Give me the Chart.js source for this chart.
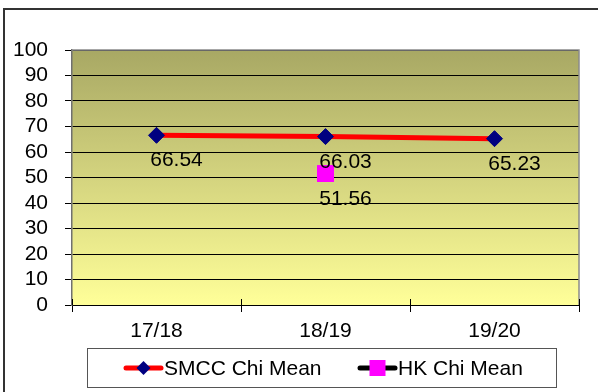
<!DOCTYPE html>
<html>
<head>
<meta charset="utf-8">
<script src="https://cdn.jsdelivr.net/npm/chart.js@4.4.1/dist/chart.umd.min.js"></script>
<style>
  html, body { margin: 0; padding: 0; background: #ffffff; }
  #wrap { width: 598px; height: 392px; position: relative; }
</style>
</head>
<body>
<div id="wrap"><canvas id="c" width="598" height="392"></canvas></div>
<script>
// Academic years on the category axis
const categories = ['17/18', '18/19', '19/20'];
// School mean and territory-wide mean for Chinese
const smccMean = [66.54, 66.03, 65.23];
const hkMean = [null, 51.56, null];
// Value axis range
const yMin = 0;
const yMax = 100;
const yStep = 10;

const FONT = '"Liberation Sans", Arial, sans-serif';
const FSIZE = 21;

// Outer frame, gradient plot fill and gray plot border
const framePlugin = {
  id: 'frame',
  beforeDraw(chart) {
    const ctx = chart.ctx;
    const a = chart.chartArea;
    ctx.save();
    ctx.fillStyle = '#ffffff';
    ctx.fillRect(0, 0, chart.width, chart.height);
    ctx.strokeStyle = '#333333';
    ctx.lineWidth = 2;
    ctx.strokeRect(4, 9, chart.width + 20, chart.height + 20);
    const g = ctx.createLinearGradient(0, a.top, 0, a.bottom);
    g.addColorStop(0, '#a8a864');
    g.addColorStop(1, '#ffff99');
    ctx.fillStyle = g;
    ctx.fillRect(a.left, a.top, a.right - a.left, a.bottom - a.top);
    ctx.restore();
  },
  beforeDatasetsDraw(chart) {
    const ctx = chart.ctx;
    const a = chart.chartArea;
    ctx.save();
    ctx.strokeStyle = '#8a8a8a';
    ctx.lineWidth = 1.5;
    ctx.beginPath();
    ctx.moveTo(a.left, a.top);
    ctx.lineTo(a.right, a.top);
    ctx.lineTo(a.right, a.bottom);
    ctx.stroke();
    // category separator ticks crossing the value-zero line
    const n = chart.data.labels.length;
    ctx.strokeStyle = '#000000';
    ctx.lineWidth = 1;
    for (let i = 0; i <= n; i++) {
      const x = Math.round(a.left + i * (a.right - a.left) / n) + 0.5;
      ctx.beginPath();
      ctx.moveTo(x, a.bottom - 6);
      ctx.lineTo(x, a.bottom);
      ctx.stroke();
    }
    ctx.restore();
  }
};

// Value labels below each marker
const valueLabels = {
  id: 'valueLabels',
  afterDatasetsDraw(chart) {
    const ctx = chart.ctx;
    ctx.save();
    ctx.font = FSIZE + 'px ' + FONT;
    ctx.fillStyle = '#000000';
    ctx.textAlign = 'center';
    ctx.textBaseline = 'alphabetic';
    chart.data.datasets.forEach((ds, di) => {
      const meta = chart.getDatasetMeta(di);
      meta.data.forEach((pt, i) => {
        const v = ds.data[i];
        if (v === null || v === undefined) return;
        ctx.fillText(v.toFixed(2), pt.x + 20, pt.y + 31);
      });
    });
    ctx.restore();
  }
};

// Boxed legend under the plot
const boxLegend = {
  id: 'boxLegend',
  afterDraw(chart) {
    const ctx = chart.ctx;
    ctx.save();
    ctx.strokeStyle = '#555555';
    ctx.lineWidth = 1;
    ctx.strokeRect(87.5, 348.5, 469, 39);
    ctx.font = FSIZE + 'px ' + FONT;
    ctx.fillStyle = '#000000';
    ctx.textBaseline = 'alphabetic';
    const cy = 368;
    const items = [
      { x: 124, ds: chart.data.datasets[0] },
      { x: 358, ds: chart.data.datasets[1] }
    ];
    items.forEach(it => {
      ctx.strokeStyle = it.ds.borderColor;
      ctx.lineWidth = 5;
      ctx.lineCap = 'round';
      ctx.beginPath();
      ctx.moveTo(it.x + 2, cy);
      ctx.lineTo(it.x + 37, cy);
      ctx.stroke();
      const mx = it.x + 19.5;
      ctx.fillStyle = it.ds.pointBackgroundColor;
      if (it.ds.pointStyle === 'rectRot') {
        ctx.beginPath();
        ctx.moveTo(mx, cy - 7);
        ctx.lineTo(mx + 7, cy);
        ctx.lineTo(mx, cy + 7);
        ctx.lineTo(mx - 7, cy);
        ctx.closePath();
        ctx.fill();
      } else {
        ctx.fillRect(mx - 8, cy - 8, 16, 16);
      }
      ctx.fillStyle = '#000000';
      ctx.fillText(it.ds.label, it.x + 40, 375);
    });
    ctx.restore();
  }
};

new Chart(document.getElementById('c'), {
  type: 'line',
  data: {
    labels: categories,
    datasets: [
      {
        label: 'SMCC Chi Mean',
        data: smccMean,
        borderColor: '#ff0000',
        borderWidth: 5,
        pointStyle: 'rectRot',
        pointRadius: 8,
        pointBackgroundColor: '#000080',
        pointBorderColor: '#000080',
        pointBorderWidth: 1,
        tension: 0
      },
      {
        label: 'HK Chi Mean',
        data: hkMean,
        showLine: false,
        borderColor: '#000000',
        pointStyle: 'rect',
        pointRadius: 12,
        pointBackgroundColor: '#ff00ff',
        pointBorderColor: '#ff00ff',
        pointBorderWidth: 0
      }
    ]
  },
  options: {
    responsive: false,
    devicePixelRatio: 1,
    animation: false,
    layout: { padding: { left: 0, right: 19, top: 50, bottom: 0 } },
    plugins: {
      legend: { display: false },
      tooltip: { enabled: false }
    },
    scales: {
      x: {
        offset: true,
        grid: {
          offset: true,
          drawOnChartArea: false,
          color: '#000000',
          tickLength: 7
        },
        border: { color: '#000000', width: 1 },
        ticks: {
          color: '#000000',
          font: { family: FONT, size: FSIZE },
          padding: 7,
          maxRotation: 0
        },
        afterFit(scale) { scale.height = 87; }
      },
      y: {
        min: yMin,
        max: yMax,
        ticks: {
          stepSize: yStep,
          autoSkip: false,
          color: '#000000',
          font: { family: FONT, size: FSIZE },
          padding: 17
        },
        grid: {
          color: '#000000',
          lineWidth: 1,
          tickLength: 7
        },
        border: { color: '#707070', width: 1.5 },
        afterFit(scale) { scale.width = 72; }
      }
    }
  },
  plugins: [framePlugin, valueLabels, boxLegend]
});
</script>
</body>
</html>
